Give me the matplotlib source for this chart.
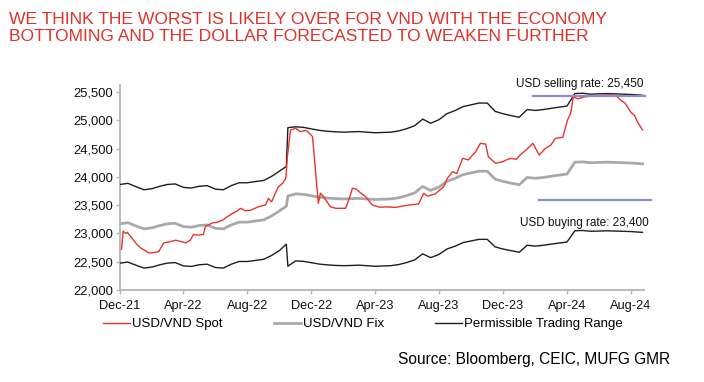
import matplotlib
matplotlib.use("Agg")
import matplotlib.pyplot as plt
import matplotlib.dates as mdates
import pandas as pd

# ---------------- data ----------------
start = pd.Timestamp("2021-12-01")

band_day = [0, 15, 31, 46, 62, 76, 90, 105, 121, 136,
            151, 166, 182, 197, 212, 227, 243, 258, 274, 289,
            304, 317, 320, 335, 350, 365, 380, 396, 411, 427,
            442, 455, 470, 486, 501, 516, 531, 547, 562, 577,
            592, 608, 623, 639, 654, 669, 684, 700, 715, 730,
            745, 761, 776, 792, 807, 821, 836, 852, 867, 882,
            897, 913, 928, 943, 958, 974, 989, 996]

fix = [23170, 23190, 23130, 23080, 23100, 23140, 23170, 23180, 23120, 23110,
       23140, 23150, 23090, 23080, 23150, 23200, 23200, 23220, 23240, 23310,
       23400, 23480, 23660, 23700, 23690, 23665, 23640, 23625, 23615, 23610,
       23615, 23620, 23610, 23600, 23605, 23610, 23630, 23670, 23720, 23830,
       23760, 23820, 23920, 23975, 24040, 24070, 24100, 24100, 23960, 23920,
       23890, 23860, 23990, 23975, 23990, 24010, 24030, 24050, 24260, 24265,
       24250, 24255, 24260, 24255, 24250, 24245, 24235, 24230]

upper = [23865, 23886, 23824, 23772, 23793, 23834, 23865, 23875, 23814, 23803,
         23834, 23845, 23783, 23772, 23845, 23896, 23896, 23917, 23937, 24009,
         24102, 24184, 24870, 24885, 24875, 24848, 24822, 24806, 24796, 24790,
         24796, 24801, 24790, 24780, 24785, 24790, 24811, 24853, 24906, 25021,
         24948, 25011, 25116, 25174, 25242, 25273, 25305, 25305, 25158, 25116,
         25084, 25053, 25190, 25174, 25190, 25210, 25231, 25252, 25473, 25478,
         25462, 25468, 25473, 25468, 25462, 25457, 25447, 25442]

lower = [22475, 22494, 22436, 22388, 22407, 22446, 22475, 22485, 22426, 22417,
         22446, 22456, 22397, 22388, 22456, 22504, 22504, 22523, 22543, 22611,
         22698, 22810, 22420, 22515, 22506, 22482, 22458, 22444, 22434, 22430,
         22434, 22439, 22430, 22420, 22425, 22430, 22449, 22487, 22534, 22639,
         22572, 22629, 22724, 22776, 22838, 22867, 22895, 22895, 22762, 22724,
         22696, 22667, 22791, 22776, 22791, 22810, 22829, 22848, 23047, 23052,
         23038, 23042, 23047, 23042, 23038, 23033, 23023, 23019]

spot_day = [3, 6, 11, 14, 20, 30, 39, 49, 55, 64,
            74, 83, 93, 106, 115, 125, 134, 140, 150, 159,
            163, 176, 186, 196, 205, 215, 224, 230, 239, 249,
            264, 277, 283, 289, 296, 302, 310, 316, 319, 325,
            335, 344, 354, 359, 367, 373, 378, 382, 388, 396,
            401, 411, 430, 436, 443, 451, 458, 468, 481, 496,
            506, 525, 550, 569, 579, 586, 601, 617, 624, 634,
            642, 653, 664, 678, 687, 697, 702, 716, 730, 736,
            745, 755, 764, 774, 787, 799, 811, 821, 830, 844,
            853, 859, 864, 872, 887, 912, 931, 944, 954, 963,
            973, 981, 986, 996]

spot = [22720, 23040, 23000, 23020, 22950, 22830, 22745, 22690, 22656, 22660,
        22680, 22830, 22850, 22880, 22860, 22833, 22880, 22980, 22970, 22985,
        23126, 23185, 23200, 23237, 23300, 23355, 23400, 23444, 23400, 23410,
        23473, 23502, 23620, 23560, 23710, 23826, 23886, 23974, 24357, 24828,
        24857, 24798, 24820, 24790, 24710, 24062, 23532, 23710, 23650, 23540,
        23473, 23444, 23444, 23590, 23800, 23780, 23720, 23650, 23502, 23462,
        23470, 23460, 23502, 23520, 23710, 23660, 23700, 23826, 23974, 24091,
        24060, 24327, 24300, 24445, 24593, 24580, 24357, 24239, 24270, 24298,
        24327, 24310, 24400, 24475, 24593, 24386, 24504, 24560, 24681, 24700,
        25005, 25123, 25417, 25380, 25417, 25440, 25450, 25447, 25359, 25300,
        25152, 25080, 24975, 24828]

sell_line_day = (787, 1001)
sell_line_val = 25435
buy_line_day = (799, 1012)
buy_line_val = 23590
sell_label = "USD selling rate: 25,450"
buy_label = "USD buying rate: 23,400"

title = ("WE THINK THE WORST IS LIKELY OVER FOR VND WITH THE ECONOMY\n"
         "BOTTOMING AND THE DOLLAR FORECASTED TO WEAKEN FURTHER")
source = "Source: Bloomberg, CEIC, MUFG GMR"
y_ticks = [22000, 22500, 23000, 23500, 24000, 24500, 25000, 25500]

# ---------------- plotting ----------------
plt.rcParams['font.family'] = ['Liberation Sans', 'DejaVu Sans']

W, H = 704, 382
fig = plt.figure(figsize=(W / 100, H / 100), dpi=100)
ax = fig.add_axes([120 / W, (H - 290) / H, 523.6 / W, 205 / H])

band_dates = start + pd.to_timedelta(band_day, unit="D")
spot_dates = start + pd.to_timedelta(spot_day, unit="D")

RED = "#E8342B"
GREY = "#A9A9A9"
BLACK = "#1E1E1E"
BLUE = "#8A8FCF"

l_fix, = ax.plot(band_dates, fix, color=GREY, lw=2.0, zorder=2)
l_band, = ax.plot(band_dates, upper, color=BLACK, lw=1.0, zorder=3)
ax.plot(band_dates, lower, color=BLACK, lw=1.0, zorder=3)
l_spot, = ax.plot(spot_dates, spot, color=RED, lw=1.0, zorder=4)

sd = start + pd.to_timedelta(list(sell_line_day), unit="D")
bd = start + pd.to_timedelta(list(buy_line_day), unit="D")
ax.plot(sd, [sell_line_val] * 2, color=BLUE, lw=1.6, zorder=5, clip_on=False)
ax.plot(bd, [buy_line_val] * 2, color=BLUE, lw=1.6, zorder=5, clip_on=False)

ax.text(start + pd.Timedelta(days=997), 25642, sell_label, ha="right", va="center",
        fontsize=8.5, color="#111111")
ax.text(start + pd.Timedelta(days=1008), 23190, buy_label, ha="right", va="center",
        fontsize=8.5, color="#111111")

ax.set_xlim(start, start + pd.Timedelta(days=998))
ax.set_ylim(22000, 25624)
ax.set_yticks(y_ticks)
ax.yaxis.set_major_formatter(matplotlib.ticker.FuncFormatter(lambda v, p: f"{int(v):,}"))
ax.xaxis.set_major_locator(mdates.MonthLocator(bymonth=[4, 8, 12]))
ax.xaxis.set_major_formatter(mdates.DateFormatter("%b-%y"))

for s in ["top", "right"]:
    ax.spines[s].set_visible(False)
for s in ["left", "bottom"]:
    ax.spines[s].set_color("#B5B5B5")
    ax.spines[s].set_linewidth(1.3)
ax.tick_params(axis="both", colors="#B5B5B5", length=3, width=1.0, direction="out")
ax.tick_params(axis="y", labelsize=9.4, labelcolor="#111111", pad=2)
ax.tick_params(axis="x", labelsize=9.2, labelcolor="#111111", pad=4)

fig.text(9 / W, 1 - 12 / H, title, ha="left", va="top", fontsize=12.6,
         color="#E0312B", linespacing=1.2)
fig.text(670 / W, 1 - 364 / H, source, ha="right", va="baseline", fontsize=11.2,
         color="#000000")

fig.legend([l_spot, l_fix, l_band],
           ["USD/VND Spot", "USD/VND Fix", "Permissible Trading Range"],
           loc="center left", bbox_to_anchor=(102.7 / W, 1 - 324.3 / H),
           ncol=3, frameon=False, fontsize=9.5, handlelength=2.05,
           handletextpad=0.15, columnspacing=3.9, borderpad=0, borderaxespad=0)

fig.savefig("out.png", dpi=100)
